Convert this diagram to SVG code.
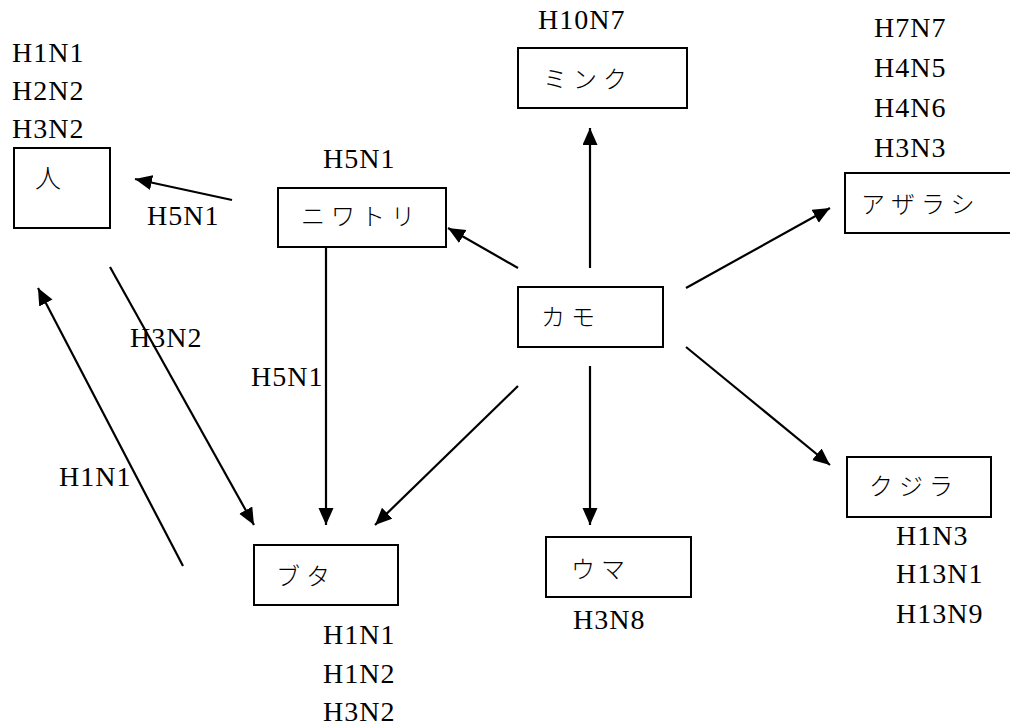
<svg xmlns="http://www.w3.org/2000/svg" width="1010" height="727" viewBox="0 0 1010 727">
<style>
.box{fill:#fff;stroke:#000;stroke-width:2}
.lbl{font-size:28px;letter-spacing:1px;fill:#000}
.jp{font-size:24px;letter-spacing:6px;fill:#000;font-weight:300}
.edge{stroke:#000;stroke-width:2.2;fill:none;marker-end:url(#ah)}
</style>
<defs>
<marker id="ah" markerUnits="userSpaceOnUse" markerWidth="18" markerHeight="16" refX="17" refY="7.5" orient="auto" viewBox="0 0 18 16">
<path d="M0,0 L17,7.5 L0,15 z" fill="#000"/>
</marker>
</defs>
<rect width="1010" height="727" fill="#fff"/>
<g font-family="Liberation Serif, serif">
<g id="connectors">
<line class="edge" x1="232" y1="200" x2="135" y2="179"/>
<line class="edge" x1="518" y1="268" x2="448" y2="228"/>
<line class="edge" x1="590" y1="268" x2="590" y2="128"/>
<line class="edge" x1="686" y1="288" x2="830" y2="208"/>
<line class="edge" x1="686" y1="347" x2="830" y2="465"/>
<line class="edge" x1="590" y1="366" x2="590" y2="525"/>
<line class="edge" x1="518" y1="386" x2="375" y2="525"/>
<line class="edge" x1="326" y1="247" x2="326" y2="525"/>
<line class="edge" x1="110" y1="267" x2="254" y2="525"/>
<line class="edge" x1="183" y1="566" x2="38" y2="288"/>
<text class="lbl" x="147" y="225">H5N1</text>
<text class="lbl" x="251" y="386">H5N1</text>
<text class="lbl" x="130" y="347">H3N2</text>
<text class="lbl" x="59" y="486">H1N1</text>
</g>
<g id="node-human">
<text class="lbl" x="12" y="62">H1N1</text>
<text class="lbl" x="12" y="100">H2N2</text>
<text class="lbl" x="12" y="138">H3N2</text>
<rect class="box" x="14" y="148" width="96" height="80"/>
<text class="jp" font-family="Noto Sans CJK JP, sans-serif" x="35" y="188" style="font-size:26px">人</text>
</g>
<g id="node-chicken">
<text class="lbl" x="323" y="168">H5N1</text>
<rect class="box" x="278" y="188" width="168" height="59"/>
<text class="jp" font-family="Noto Sans CJK JP, sans-serif" x="301" y="225">ニワトリ</text>
</g>
<g id="node-mink">
<text class="lbl" x="538" y="29">H10N7</text>
<rect class="box" x="518" y="48" width="169" height="60"/>
<text class="jp" font-family="Noto Sans CJK JP, sans-serif" x="543" y="88">ミンク</text>
</g>
<g id="node-seal">
<text class="lbl" x="874" y="37">H7N7</text>
<text class="lbl" x="874" y="77">H4N5</text>
<text class="lbl" x="874" y="117">H4N6</text>
<text class="lbl" x="874" y="157">H3N3</text>
<rect class="box" x="845" y="173" width="170" height="60"/>
<text class="jp" font-family="Noto Sans CJK JP, sans-serif" x="861" y="213">アザラシ</text>
</g>
<g id="node-duck">
<rect class="box" x="518" y="287" width="145" height="60"/>
<text class="jp" font-family="Noto Sans CJK JP, sans-serif" x="541" y="326">カモ</text>
</g>
<g id="node-horse">
<rect class="box" x="546" y="537" width="145" height="60"/>
<text class="jp" font-family="Noto Sans CJK JP, sans-serif" x="571" y="578">ウマ</text>
<text class="lbl" x="573" y="629">H3N8</text>
</g>
<g id="node-whale">
<rect class="box" x="847" y="457" width="144" height="60"/>
<text class="jp" font-family="Noto Sans CJK JP, sans-serif" x="869" y="495">クジラ</text>
<text class="lbl" x="896" y="545">H1N3</text>
<text class="lbl" x="896" y="583">H13N1</text>
<text class="lbl" x="896" y="623">H13N9</text>
</g>
<g id="node-pig">
<rect class="box" x="254" y="545" width="144" height="60"/>
<text class="jp" font-family="Noto Sans CJK JP, sans-serif" x="276" y="585">ブタ</text>
<text class="lbl" x="323" y="644">H1N1</text>
<text class="lbl" x="323" y="683">H1N2</text>
<text class="lbl" x="323" y="721">H3N2</text>
</g>
</g>
</svg>
